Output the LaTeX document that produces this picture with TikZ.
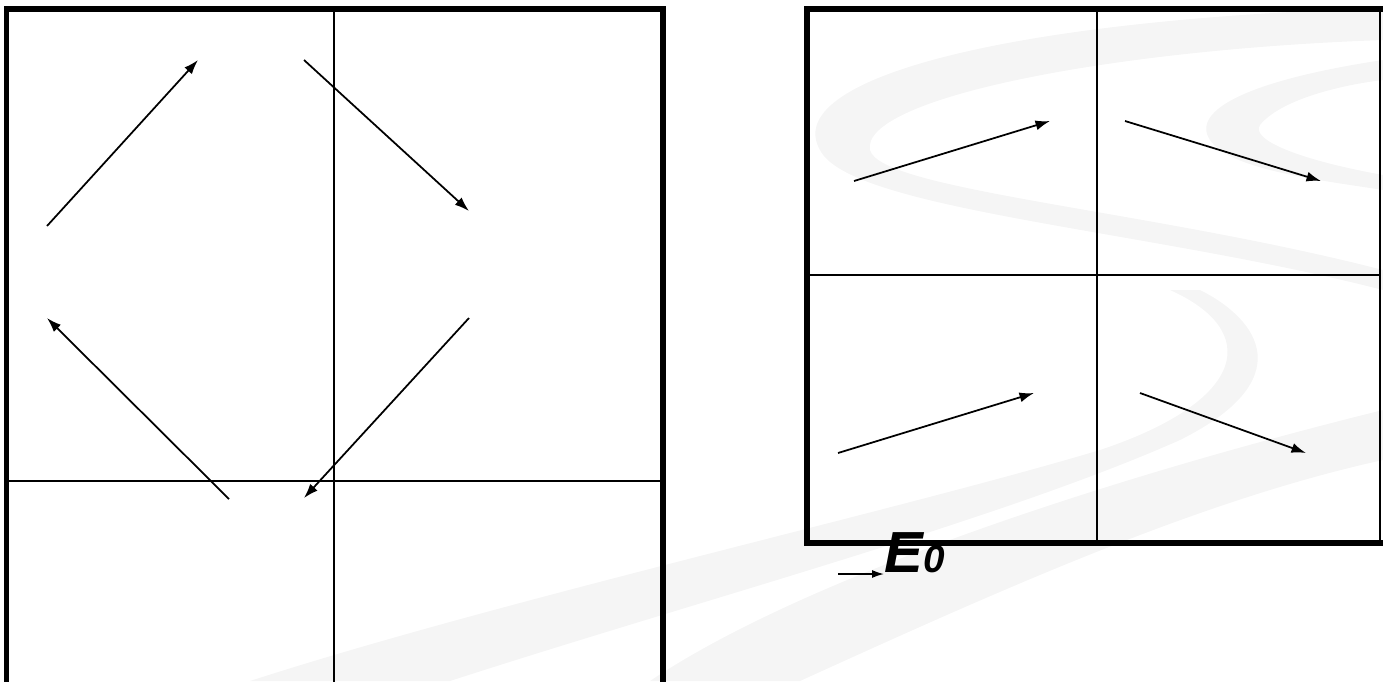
\documentclass[tikz,border=0pt]{standalone}
\usepackage{fontspec}
\setmainfont{Liberation Sans}
\usetikzlibrary{arrows.meta}
\begin{document}
\begin{tikzpicture}[x=0.02cm,y=-0.02cm,
  frame/.style={line width=3.4pt,line cap=rect},
  thin/.style={line width=1.3pt},
  vec/.style={line width=1pt,-{Latex[length=2.9mm,width=2mm]}},
  wm/.style={fill=black!4,draw=none}]
\useasboundingbox (0,0) rectangle (1383,681);
% watermark swooshes
\path[wm] (1383,8) .. controls (1000,20) and (780,80) .. (820,150) .. controls (850,210) and (1150,230) .. (1383,290) -- (1383,270) .. controls (1150,210) and (880,190) .. (870,150) .. controls (860,100) and (1100,50) .. (1383,40) -- cycle;
\path[wm] (1383,60) .. controls (1250,80) and (1190,110) .. (1210,140) .. controls (1230,170) and (1320,180) .. (1383,190) -- (1383,175) .. controls (1300,160) and (1250,140) .. (1260,125) .. controls (1280,100) and (1340,85) .. (1383,80) -- cycle;
\path[wm] (1170,290) .. controls (1260,330) and (1250,400) .. (1100,450) .. controls (900,510) and (500,600) .. (250,681) -- (450,681) .. controls (700,600) and (1000,520) .. (1180,440) .. controls (1300,380) and (1260,320) .. (1200,290) -- cycle;
\path[wm] (1383,410) .. controls (1100,480) and (800,580) .. (650,681) -- (800,681) .. controls (1000,590) and (1200,500) .. (1383,460) -- cycle;
% left panel
\coordinate (LBL) at (6.5,690);
\coordinate (LTL) at (6.5,9);
\coordinate (LTR) at (663,9);
\coordinate (LBR) at (663,690);
\draw[frame] (LBL) -- (LTL) -- (LTR) -- (LBR);
\coordinate (LV1) at (334,9); \coordinate (LV2) at (334,690);
\coordinate (LH1) at (6.5,481); \coordinate (LH2) at (663,481);
\draw[thin] (LV1) -- (LV2);
\draw[thin] (LH1) -- (LH2);
\coordinate (a1s) at (47,226); \coordinate (a1e) at (198,60);
\coordinate (a2s) at (304,60); \coordinate (a2e) at (469,211);
\coordinate (a3s) at (469,318); \coordinate (a3e) at (304,498);
\coordinate (a4s) at (229,499); \coordinate (a4e) at (47,318);
\draw[vec] (a1s) -- (a1e);
\draw[vec] (a2s) -- (a2e);
\draw[vec] (a3s) -- (a3e);
\draw[vec] (a4s) -- (a4e);
% right panel
\coordinate (RTL) at (807,9);
\coordinate (RTR) at (1380,9);
\coordinate (RBR) at (1380,543);
\coordinate (RBL) at (807,543);
\draw[line width=1.6pt] (RTR) -- (RBR);
\draw[frame] (RBR) -- (RBL) -- (RTL) -- (RTR);
\coordinate (RV1) at (1097,9); \coordinate (RV2) at (1097,543);
\coordinate (RH1) at (807,275); \coordinate (RH2) at (1380,275);
\draw[thin] (RV1) -- (RV2);
\draw[thin] (RH1) -- (RH2);
\coordinate (b1s) at (854,181); \coordinate (b1e) at (1050,121);
\coordinate (b2s) at (1125,121); \coordinate (b2e) at (1321,181);
\coordinate (b3s) at (838,453); \coordinate (b3e) at (1034,393);
\coordinate (b4s) at (1140,393); \coordinate (b4e) at (1306,453);
\draw[vec] (b1s) -- (b1e);
\draw[vec] (b2s) -- (b2e);
\draw[vec] (b3s) -- (b3e);
\draw[vec] (b4s) -- (b4e);
% E0 legend
\node[anchor=base west,inner sep=0pt] (E0) at (884,572)
  {\bfseries\itshape\fontsize{33}{33}\selectfont E\fontsize{22}{22}\selectfont 0};
\coordinate (e0s) at (838,574);
\draw[line width=0.9pt,-{Latex[length=2.4mm,width=1.6mm]}] (e0s) -- (E0.base west |- e0s);
\end{tikzpicture}
\end{document}
